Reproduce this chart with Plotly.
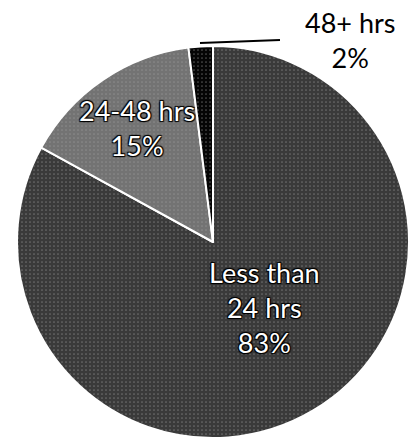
import plotly.graph_objects as go

# Response-time breakdown
categories = ["Less than<br>24 hrs", "24-48 hrs", "48+ hrs"]
shares = [83, 15, 2]
slice_colors = ["#3a3a3a", "#737373", "#050505"]

total = sum(shares)
pct = [f"{round(v / total * 100)}%" for v in shares]

# label anchor points (paper coords) and colours for each slice label
label_pos = [(264 / 417, 1 - 307 / 441), (137 / 417, 1 - 128 / 441), (350 / 417, 1 - 40 / 441)]
label_colors = ["white", "white", "black"]
outline = "1px 1px 1px #000, -1px -1px 1px #000, 1px -1px 1px #000, -1px 1px 1px #000"

fig = go.Figure()
fig.add_trace(go.Pie(
    labels=categories,
    values=shares,
    sort=False,
    direction="clockwise",
    rotation=0,
    textinfo="none",
    marker=dict(
        colors=slice_colors,
        line=dict(color="white", width=2),
        pattern=dict(shape=".", fgcolor="#a0a0a0", size=4, solidity=0.15,
                     fillmode="overlay"),
    ),
    domain=dict(x=[17 / 417, 409 / 417], y=[3 / 441, 395 / 441]),
    showlegend=False,
    hoverinfo="label+percent",
))

for i in range(len(categories)):
    fig.add_annotation(
        x=label_pos[i][0], y=label_pos[i][1], xref="paper", yref="paper",
        text=f"{categories[i]}<br>{pct[i]}",
        showarrow=False, xanchor="center", yanchor="middle",
        font=dict(family="Lato", size=27, color=label_colors[i],
                  shadow=outline if label_colors[i] == "white" else "none"),
    )

# leader line for the small slice
fig.add_shape(type="line", xref="paper", yref="paper",
              x0=200 / 417, y0=1 - 43 / 441, x1=280 / 417, y1=1 - 40 / 441,
              line=dict(color="black", width=2))

fig.update_layout(
    width=417, height=441,
    margin=dict(l=0, r=0, t=0, b=0),
    paper_bgcolor="white",
    plot_bgcolor="white",
)

fig.write_html("out.html")
